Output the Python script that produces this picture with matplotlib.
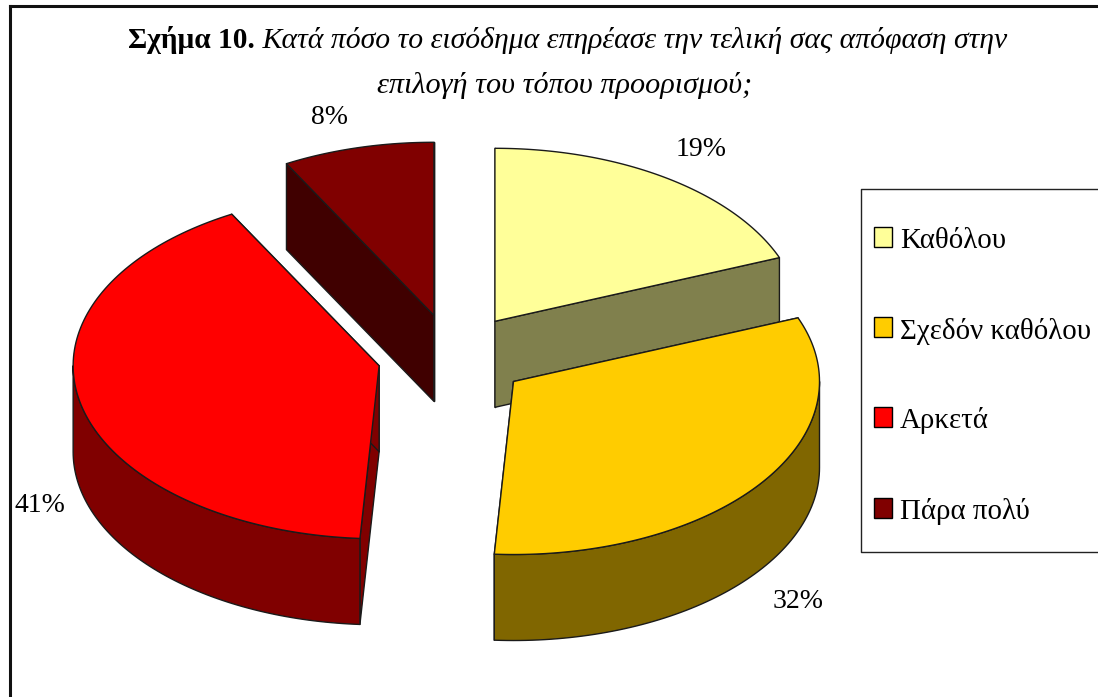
import numpy as np
import matplotlib
matplotlib.use('Agg')
import matplotlib.pyplot as plt
from matplotlib.patches import Polygon, Rectangle

plt.rcParams['font.family'] = ['Liberation Serif', 'DejaVu Serif']

labels = ['Καθόλου', 'Σχεδόν καθόλου', 'Αρκετά', 'Πάρα πολύ']
values = [19, 32, 41, 8]
pct_labels = ['19%', '32%', '41%', '8%']
top_colors = ['#FFFF99', '#FFCC00', '#FF0000', '#800000']
side_colors = ['#80804D', '#806600', '#800000', '#400000']
title_bold = 'Σχήμα 10.'
title_italic = ' Κατά πόσο το εισόδημα επηρέασε την τελική σας απόφαση στην'
title_line2 = 'επιλογή του τόπου προορισμού;'

# pie geometry, in pixels
cx, cy = 452.6, 356.5
rx, ry = 306, 173
depth = 86
explode = 0.246
pct_pos = [(701, 149), (798, 601), (40, 506), (330, 118)]
legend_y = [236.5, 327, 417, 507.5]
legend_base = [248.5, 339, 428, 519]

fig = plt.figure(figsize=(10.98, 6.97), dpi=100)
ax = fig.add_axes([0, 0, 1, 1])
ax.set_xlim(0, 1098)
ax.set_ylim(697, 0)
ax.axis('off')


def rim(t, ox, oy, dz=0):
    return np.column_stack([ox + rx * np.sin(t), oy - ry * np.cos(t) + dz])


def face(pts, color, z):
    ax.add_patch(Polygon(pts, closed=True, facecolor=color, edgecolor='#1a1a1a',
                         linewidth=1.0, joinstyle='round', zorder=z))


edges = np.concatenate([[0], np.cumsum(values)]) / sum(values) * 2 * np.pi
# back slices go first so that the front ones paint over them
order = [0, 3, 2, 1]
for n, i in enumerate(order):
    t0, t1 = edges[i], edges[i + 1]
    mid = (t0 + t1) / 2
    ox = cx + explode * rx * np.sin(mid)
    oy = cy - explode * ry * np.cos(mid)
    z = 2 + n * 3

    # the flat cut walls
    for t in (t0, t1):
        p = rim(np.array([t]), ox, oy)[0]
        face([(ox, oy), p, (p[0], p[1] + depth), (ox, oy + depth)], side_colors[i], z)

    # outer wall, only the front half of the rim shows
    a, b = max(t0, np.pi / 2), min(t1, 3 * np.pi / 2)
    if b > a:
        ts = np.linspace(a, b, 80)
        face(np.vstack([rim(ts, ox, oy), rim(ts[::-1], ox, oy, depth)]), side_colors[i], z + 1)

    # top of the slice
    ts = np.linspace(t0, t1, 120)
    face(np.vstack([[(ox, oy)], rim(ts, ox, oy)]), top_colors[i], z + 2)

for s, (x, y) in zip(pct_labels, pct_pos):
    ax.text(x, y, s, fontsize=20, ha='center', va='center', color='black')

# legend box is open at the right, it runs off the picture
ax.plot([1098, 861, 861, 1098], [189, 189, 552, 552], color='#222222', lw=1.0, zorder=30)
for s, c, y, b in zip(labels, top_colors, legend_y, legend_base):
    ax.add_patch(Rectangle((873.5, y - 10), 18.5, 20, facecolor=c, edgecolor='black',
                           linewidth=1.0, zorder=31))
    ax.text(900, b, s, fontsize=20.8, ha='left', va='baseline', color='black', zorder=31)

# outer frame, only left and top are in the picture
ax.plot([10, 10], [697, 5.5], color='#111111', lw=2.2, zorder=30, solid_capstyle='projecting')
ax.plot([10, 1098], [5.5, 5.5], color='#111111', lw=2.2, zorder=30)

# first title line mixes bold and italic, so place the pieces by measured width
t1 = ax.text(128, 48.5, title_bold, fontsize=21.2, fontweight='bold', ha='left', va='baseline')
fig.canvas.draw()
bb = t1.get_window_extent()
ax.text(bb.x1, 48.5, title_italic, fontsize=21.4, fontstyle='italic', ha='left', va='baseline')
ax.text(565, 93, title_line2, fontsize=21.8, fontstyle='italic', ha='center', va='baseline')

fig.savefig('out.png', dpi=100)
